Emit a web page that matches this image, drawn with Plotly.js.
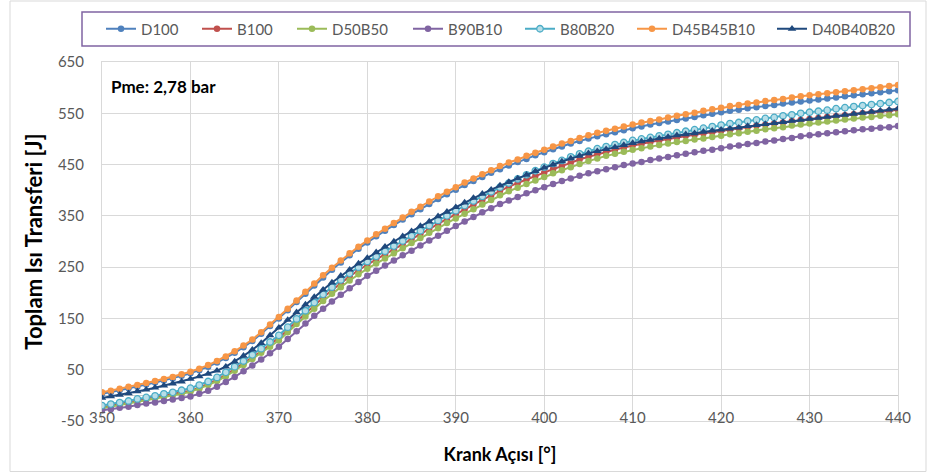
<!DOCTYPE html>
<html>
<head>
<meta charset="utf-8">
<script src="https://cdn.plot.ly/plotly-3.0.1.min.js"></script>
<style>html,body{margin:0;padding:0;background:#fff;}#chart{width:929px;height:473px;}</style>
</head>
<body>
<div id="chart"></div>
<script>
// Crank angle (degrees), one point per degree
const crankAngle = [350,351,352,353,354,355,356,357,358,359,360,361,362,363,364,365,366,367,368,369,370,371,372,373,374,375,376,377,378,379,380,381,382,383,384,385,386,387,388,389,390,391,392,393,394,395,396,397,398,399,400,401,402,403,404,405,406,407,408,409,410,411,412,413,414,415,416,417,418,419,420,421,422,423,424,425,426,427,428,429,430,431,432,433,434,435,436,437,438,439,440];

const seriesNames = ["D100","B100","D50B50","B90B10","B80B20","D45B45B10","D40B40B20"];

const D100 = [3,6,10,14,17,21,25,29,33,38,43,49,56,64,73,83,94,106,120,135,150,166,182,198,214,230,245,259,273,286,298,310,321,332,343,353,363,373,383,392,401,410,418,426,434,441,448,455,461,468,474,480,485,491,496,501,505,509,513,517,521,524,528,531,534,537,540,543,546,549,552,555,557,560,562,564,566,569,571,573,575,577,579,581,583,585,587,589,591,593,595];

const B100 = [-23,-20,-17,-13,-10,-6,-3,0,3,6,9,15,22,30,40,51,62,74,86,99,112,128,144,160,176,191,205,219,232,244,255,265,275,285,295,305,315,325,334,344,353,363,372,381,390,399,407,414,421,428,434,441,447,454,460,465,470,474,479,483,487,490,494,497,500,503,506,508,511,513,516,518,521,523,526,528,530,532,535,537,539,541,543,544,546,548,550,552,553,555,557];

const D50B50 = [-25,-22,-19,-16,-12,-9,-6,-3,0,3,7,13,20,28,37,48,59,71,83,95,107,123,139,154,169,184,198,211,224,236,247,257,267,277,287,297,307,317,326,336,345,354,363,372,381,390,398,405,412,419,426,433,439,445,451,457,462,467,471,475,479,482,485,488,491,494,496,499,501,504,506,509,511,514,516,519,521,523,526,528,530,532,534,536,538,540,542,543,545,546,548];

const B90B10 = [-29,-27,-24,-22,-19,-16,-14,-11,-8,-5,-2,3,9,17,26,36,47,58,70,82,95,110,125,140,155,169,183,196,209,221,233,243,253,263,273,282,292,302,311,321,330,339,348,357,365,373,380,387,394,400,406,412,418,423,428,433,437,441,445,449,452,455,459,462,465,468,471,474,477,479,482,485,487,490,492,495,497,500,502,505,507,509,511,513,515,517,519,520,522,523,525];

const B80B20 = [-20,-17,-14,-11,-7,-4,-1,3,6,10,14,20,27,35,45,56,67,79,91,104,117,133,149,165,181,197,211,225,238,250,261,271,281,291,301,311,321,331,341,350,360,370,379,388,397,406,414,422,430,438,445,452,458,465,471,476,481,485,489,493,497,500,503,506,509,512,515,518,521,524,527,530,532,535,537,540,542,545,547,550,552,554,556,559,561,563,565,567,569,571,573];

const D45B45B10 = [6,9,13,17,20,24,28,32,36,41,46,52,59,67,76,86,97,109,123,138,153,169,185,202,218,234,249,263,277,290,302,314,325,336,347,358,368,378,388,397,406,415,423,431,439,447,454,460,467,473,479,485,491,496,502,507,512,516,520,524,528,532,535,538,542,545,548,551,555,558,561,564,566,569,571,574,576,578,581,583,585,587,589,591,593,595,597,599,601,603,605];

const D40B40B20 = [-5,-2,1,4,8,11,15,19,23,27,32,37,42,48,56,66,77,89,102,117,132,147,162,177,192,206,220,233,245,257,268,279,290,300,310,320,330,339,349,358,367,376,385,393,401,409,416,423,430,437,444,450,456,462,467,472,476,480,484,488,492,495,498,501,504,507,509,511,514,516,518,520,522,525,527,529,531,533,535,537,539,541,543,545,547,549,551,553,555,557,559];

const xTickVals = [350,360,370,380,390,400,410,420,430,440];
const yTickVals = [-50,50,150,250,350,450,550,650];

const seriesValues = [D100,B100,D50B50,B90B10,B80B20,D45B45B10,D40B40B20];
const colors = ["#4f81bd","#c0504d","#9bbb59","#8064a2","#4bacc6","#f79646","#1f497d"];
const symbols = ["circle","circle","circle","circle","circle","circle","triangle-up"];
const fillColors = ["#4f81bd","#c0504d","#9bbb59","#8064a2","#b7dee8","#f79646","#1f497d"];
// legend entry left edges in pixels
const legendPx = [106,202,297,413,525,637,777];

const L = 102, R = 31, T = 62, B = 52, W = 929, H = 473;
const pw = W - L - R, ph = H - T - B;
const px2x = p => (p - L) / pw;
const py2y = p => (H - B - p) / ph;

const FONT = "Lato, 'Open Sans', sans-serif";

const traces = seriesNames.map((n, i) => ({
  type: "scatter",
  mode: "lines+markers",
  name: n,
  x: crankAngle,
  y: seriesValues[i],
  line: {color: colors[i], width: 2},
  marker: {symbol: symbols[i], size: i === 6 ? 7.5 : 6.5, color: fillColors[i],
           line: {color: colors[i], width: i === 4 ? 1.3 : 0}},
  legend: i === 0 ? "legend" : "legend" + (i + 1)
}));

const layout = {
  width: W, height: H,
  margin: {l: L, r: R, t: T, b: B},
  paper_bgcolor: "#fff", plot_bgcolor: "#fff",
  font: {family: FONT, color: "#595959"},
  xaxis: {
    range: [350, 440], tickvals: xTickVals, ticktext: xTickVals.map(String),
    showgrid: true, gridcolor: "#d9d9d9", gridwidth: 1,
    showline: true, linecolor: "#d9d9d9", mirror: true, zeroline: false,
    ticks: "", tickfont: {family: FONT, size: 15, color: "#595959"},
    ticklabelstandoff: -17,
    title: {text: "Krank Açısı [°]", font: {family: FONT, size: 18, color: "#000", weight: "bold"}, standoff: 23}
  },
  yaxis: {
    range: [-50, 650], tickvals: yTickVals, ticktext: yTickVals.map(String),
    showgrid: true, gridcolor: "#d9d9d9", gridwidth: 1,
    showline: true, linecolor: "#d9d9d9", mirror: true,
    zeroline: true, zerolinecolor: "#c9c9c9", zerolinewidth: 1,
    ticks: "", tickfont: {family: FONT, size: 15, color: "#595959"},
    ticklabelstandoff: 14,
    title: {text: "Toplam Isı Transferi [J]", font: {family: FONT, size: 22, color: "#000", weight: "bold"}, standoff: 9}
  },
  showlegend: true,
  annotations: [{
    xref: "paper", yref: "paper", x: px2x(109), y: py2y(86), xanchor: "left", yanchor: "middle",
    text: "Pme: 2,78 bar", showarrow: false, font: {family: FONT, size: 17, color: "#000", weight: "bold"}
  }],
  shapes: [
    {type: "rect", xref: "paper", yref: "paper", x0: px2x(82), x1: px2x(910), y0: py2y(46), y1: py2y(12),
     line: {color: "#8064a2", width: 1.5}, fillcolor: "rgba(0,0,0,0)", layer: "below"},
    {type: "rect", xref: "paper", yref: "paper", x0: px2x(10), x1: px2x(926), y0: py2y(471.5), y1: py2y(1),
     line: {color: "#d9d9d9", width: 1}, fillcolor: "rgba(0,0,0,0)", layer: "below"}
  ]
};

legendPx.forEach((p, i) => {
  const key = i === 0 ? "legend" : "legend" + (i + 1);
  layout[key] = {
    x: px2x(p - 5), y: py2y(29), xanchor: "left", yanchor: "middle",
    orientation: "h", bgcolor: "rgba(0,0,0,0)", borderwidth: 0,
    itemwidth: 30, font: {family: FONT, size: 15, color: "#595959"}
  };
});

Plotly.newPlot("chart", traces, layout, {displayModeBar: false, staticPlot: true});
</script>
</body>
</html>
